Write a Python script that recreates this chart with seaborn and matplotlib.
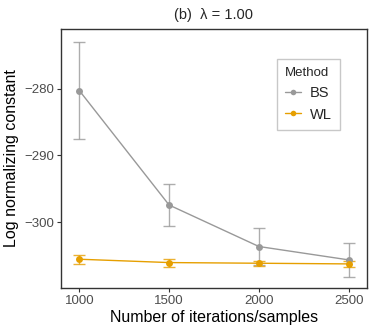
import matplotlib
matplotlib.use("Agg")
import matplotlib.pyplot as plt
import seaborn as sns
import pandas as pd
import numpy as np

iterations = [1000, 1500, 2000, 2500]
bs_mean = [-280.3, -297.4, -303.6, -305.6]
bs_err = [7.3, 3.1, 2.7, 2.5]
wl_mean = [-305.5, -306.0, -306.1, -306.2]
wl_err = [0.7, 0.6, 0.4, 0.5]
methods = ["BS", "WL"]
colors = {"BS": "#999999", "WL": "#E69F00"}

df = pd.DataFrame({
    "iter": iterations * 2,
    "value": bs_mean + wl_mean,
    "err": bs_err + wl_err,
    "Method": ["BS"] * 4 + ["WL"] * 4,
})

sns.set_style("white")
plt.rcParams['font.family'] = ['Liberation Sans', 'DejaVu Sans']

fig = plt.figure(figsize=(3.74, 3.32), dpi=100)
ax = fig.add_axes([61/374, 1-288/332, (367-61)/374, (288-29)/332])

for m in methods:
    sub = df[df.Method == m]
    ax.errorbar(sub["iter"], sub["value"], yerr=sub["err"], fmt="none",
                ecolor=colors[m], elinewidth=1.0, capsize=4.5, capthick=1.0, alpha=0.8, zorder=2)

sns.lineplot(data=df, x="iter", y="value", hue="Method", palette=colors,
             marker="o", markersize=5, markeredgewidth=0, linewidth=1.0, ax=ax, zorder=3)

ax.set_xlim(898, 2602)
ax.set_ylim(-309.8, -271.1)
ax.set_xticks(iterations)
ax.set_yticks([-280, -290, -300])
ax.set_yticklabels(["\u2212280", "\u2212290", "\u2212300"])
ax.tick_params(axis="both", bottom=True, left=True, colors="#333333", labelcolor="#4D4D4D",
               labelsize=9.5, length=3, width=0.8, direction="out", pad=2)
for s in ax.spines.values():
    s.set_color("#333333")
    s.set_linewidth(1.0)
ax.set_xlabel("Number of iterations/samples", fontsize=11.5, color="black", labelpad=2)
ax.set_ylabel("Log normalizing constant", fontsize=11.5, color="black", labelpad=4)
ax.set_title("(b)  \u03bb = 1.00", fontsize=10.5, pad=7)

leg = ax.legend(title="Method", loc="upper left", bbox_to_anchor=((277-61)/306, 1-(59-29)/259),
                frameon=True, fontsize=10.5, title_fontsize=9.5, handlelength=1.1,
                handletextpad=0.6, markerscale=0.8,
                borderpad=0.55, labelspacing=0.5, fancybox=False, borderaxespad=0)
leg.get_frame().set_edgecolor("#BBBBBB")
leg.get_frame().set_linewidth(1.0)
leg._legend_box.align = "left"

fig.savefig("out.png", dpi=100)
